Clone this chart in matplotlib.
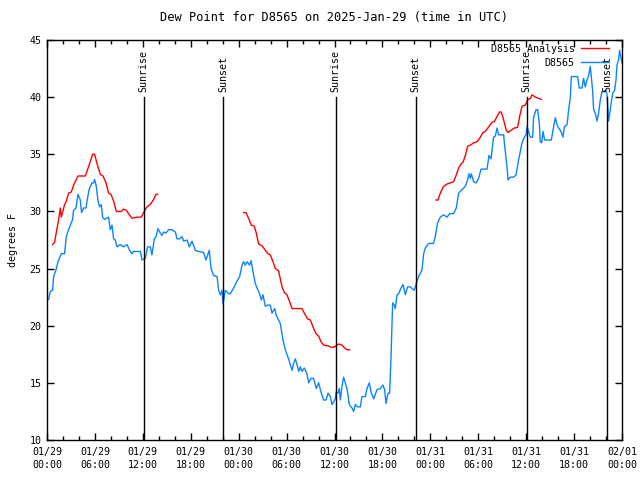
import matplotlib
matplotlib.use("Agg")
import matplotlib.pyplot as plt
from matplotlib.ticker import MultipleLocator

# hours since 2025-01-29 00:00 UTC
obs_t = [0.20, 0.41, 0.70, 0.83, 1.13, 1.38, 1.79, 2.20, 2.42, 2.70, 2.92, 3.21, 3.33, 3.63,
         3.88, 4.17, 4.33, 4.58, 4.88, 5.01, 5.30, 5.64, 5.84, 5.96, 6.17, 6.39, 6.59, 6.80,
         6.96, 7.21, 7.71, 7.93, 8.14, 8.34, 8.55, 8.77, 9.18, 9.59, 10.02, 10.34, 10.64,
         10.84, 11.68, 11.90, 12.31, 12.60, 12.93, 13.14, 13.44, 13.65, 13.90, 14.19, 14.40,
         14.60, 14.90, 15.23, 15.65, 16.07, 16.28, 16.60, 16.90, 17.11, 17.53, 17.82, 18.16,
         18.57, 18.98, 19.61, 19.91, 20.32, 20.54, 20.86, 21.29, 21.49, 21.70, 21.91, 22.04,
         22.33, 22.74, 22.95, 23.37, 23.79, 24.12, 24.42, 24.62, 24.83, 25.04, 25.37, 25.55,
         25.75, 26.08, 26.30, 26.62, 26.84, 27.05, 27.34, 27.62, 27.96, 28.17, 28.50, 28.71,
         29.21, 29.55, 29.84, 30.25, 30.68, 30.88, 31.09, 31.31, 31.51, 31.72, 31.93, 32.22,
         32.56, 32.76, 33.06, 33.38, 33.72, 34.01, 34.31, 34.64, 34.94, 35.19, 35.48, 35.69,
         36.10, 36.19, 36.44, 36.60, 36.73, 36.94, 37.14, 37.44, 37.64, 37.85, 38.19, 38.39,
         38.61, 38.89, 39.23, 39.44, 39.86, 40.07, 40.36, 40.57, 40.90, 41.32, 41.74, 42.07,
         42.28, 42.45, 42.70, 42.90, 43.08, 43.28, 43.49, 43.61, 43.83, 44.03, 44.33, 44.58,
         44.87, 45.15, 45.49, 45.71, 45.99, 46.24, 46.53, 46.96, 47.16, 47.37, 47.79, 48.41,
         48.62, 48.91, 49.25, 49.66, 50.09, 50.41, 50.91, 51.25, 51.54, 51.97, 52.38, 52.67,
         52.84, 53.01, 53.13, 53.42, 53.76, 54.05, 54.35, 55.10, 55.35, 55.60, 55.92, 56.14,
         56.35, 56.55, 56.76, 57.18, 57.30, 57.60, 57.73, 58.02, 58.43, 58.73, 59.05, 59.48,
         59.77, 59.98, 60.10, 60.30, 60.52, 60.81, 60.93, 61.23, 61.43, 61.65, 61.77, 61.94,
         62.11, 62.31, 63.15, 63.36, 63.65, 63.86, 64.06, 64.36, 64.61, 64.78, 65.12, 65.32,
         65.53, 65.65, 66.44, 66.65, 66.99, 67.19, 67.40, 67.61, 67.82, 68.03, 68.16, 68.32,
         68.45, 68.66, 68.87, 69.07, 69.28, 69.50, 69.70, 69.91, 70.12, 70.32, 70.53, 70.82,
         71.07, 71.25, 71.37, 71.57, 71.70, 72.00]
obs_dp = [22.3, 23.0, 23.1, 24.3, 24.9, 25.6, 26.3, 26.3, 27.8, 28.4, 28.8, 29.3, 30.1, 30.3,
          31.5, 31.0, 29.9, 30.3, 30.3, 30.9, 32.0, 32.5, 32.5, 32.8, 32.2, 30.9, 30.4, 30.6,
          29.5, 29.3, 29.5, 28.4, 28.8, 27.6, 27.5, 26.9, 27.1, 26.9, 27.1, 26.6, 26.3,
          26.5, 26.5, 25.75, 25.9, 26.9, 26.9, 26.2, 27.6, 27.8, 28.5, 28.1, 27.9,
          28.2, 28.1, 28.4, 28.4, 28.2, 27.6, 27.6, 27.8, 27.4, 27.5, 26.9, 27.4,
          26.6, 26.5, 26.4, 25.75, 26.6, 25.0, 24.4, 24.3, 23.1, 22.7, 23.1, 21.9,
          23.1, 22.8, 22.8, 23.3, 23.9, 24.3, 25.3, 25.6, 25.3, 25.6, 25.3, 25.7,
          24.9, 23.7, 23.3, 22.8, 22.25, 22.7, 21.7, 21.8, 21.8, 21.1, 21.5, 20.9,
          20.2, 18.75, 17.9, 17.1, 16.1, 16.7, 17.1, 16.6, 16.0, 16.4, 16.0, 16.3,
          15.8, 15.0, 15.4, 15.4, 14.5, 15.0, 14.2, 13.5, 13.5, 14.1, 13.8, 13.1,
          13.6, 14.2, 14.1, 14.5, 13.5, 14.7, 15.5, 14.8, 14.2, 13.1, 12.8, 12.5,
          13.1, 12.9, 12.9, 13.8, 13.8, 14.5, 15.0, 14.2, 13.6, 14.4, 14.5, 14.8,
          14.4, 13.2, 14.1, 14.1, 17.3, 22.0, 21.8, 21.5, 22.7, 22.8, 23.3, 23.6,
          22.7, 23.4, 23.4, 23.25, 23.1, 23.7, 24.3, 24.9, 26.3, 26.8, 27.2, 27.2,
          27.8, 29.0, 29.5, 29.7, 29.5, 29.8, 29.8, 30.3, 31.6, 31.9, 32.2, 32.75,
          33.3, 32.9, 33.3, 32.6, 32.5, 32.9, 33.7, 33.7, 34.9, 34.6, 36.5, 36.6,
          37.3, 36.7, 36.7, 36.7, 35.8, 33.9, 32.75, 33.0, 33.0, 33.2, 34.5, 36.0,
          36.5, 36.7, 37.4, 37.0, 36.5, 36.5, 38.2, 38.9, 38.9, 37.7, 36.1, 36.0,
          37.0, 36.25, 36.25, 37.1, 38.2, 37.6, 37.3, 37.0, 36.5, 37.4, 37.6, 38.9,
          40.0, 41.8, 41.8, 40.8, 40.8, 41.65, 40.9, 41.5, 41.9, 42.7, 41.8, 40.6,
          38.9, 38.6, 37.9, 38.6, 39.75, 40.5, 40.5, 40.6, 40.3, 37.9, 38.9, 40.3,
          40.6, 41.5, 42.8, 43.25, 44.1, 43.0]

# analysis, three separate runs
ana1_t = [0.70, 0.95, 1.25, 1.45, 1.67, 1.79, 1.95, 2.20, 2.42, 2.70, 3.04, 3.33, 3.88, 4.80,
          5.30, 5.71, 5.96, 6.26, 6.67, 7.01, 7.39, 7.71, 8.01, 8.34, 8.68, 9.30, 9.59, 9.93,
          10.22, 10.64, 11.27, 11.81, 12.10, 12.52, 12.93, 13.35, 13.65, 13.85]
ana1_dp = [27.1, 27.3, 28.5, 29.25, 30.3, 29.5, 29.9, 30.6, 30.9, 31.6, 31.7, 32.3, 33.1, 33.1,
           34.1, 35.0, 35.0, 34.2, 33.25, 33.1, 32.5, 31.6, 31.5, 30.9, 30.0, 30.0, 30.2, 30.1,
           29.8, 29.4, 29.5, 29.5, 29.9, 30.4, 30.6, 31.05, 31.5, 31.5]
ana2_t = [24.62, 24.92, 25.24, 25.58, 25.96, 26.21, 26.50, 26.92, 27.34, 27.67, 27.96, 28.30,
          28.59, 29.00, 29.43, 29.72, 30.05, 30.38, 30.68, 31.93, 32.22, 32.63, 32.97, 33.31,
          33.68, 34.01, 34.31, 34.64, 35.14, 35.69, 36.01, 36.31, 36.51, 36.94, 37.35, 37.57,
          37.89]
ana2_dp = [29.9, 29.9, 29.4, 28.8, 28.7, 28.1, 27.15, 27.0, 26.6, 26.3, 26.2, 25.6,
           25.0, 24.8, 23.4, 22.9, 22.7, 22.1, 21.5, 21.5, 21.1, 20.6, 20.5, 19.9,
           19.3, 19.1, 18.6, 18.3, 18.25, 18.1, 18.15, 18.3, 18.4, 18.3, 18.0, 17.9,
           17.9]
ana3_t = [48.71, 48.96, 49.25, 49.66, 50.09, 50.50, 50.91, 51.25, 51.54, 51.84, 52.09, 52.38,
          52.67, 53.01, 53.42, 53.85, 54.17, 54.60, 54.88, 55.30, 55.72, 56.01, 56.35, 56.67,
          56.89, 57.18, 57.51, 57.73, 58.10, 58.52, 58.93, 59.18, 59.48, 59.89, 60.18, 60.52,
          60.73, 61.15, 61.56, 61.90]
ana3_dp = [31.0, 31.0, 31.6, 32.2, 32.4, 32.5, 32.6, 33.2, 33.8, 34.15, 34.3, 34.9,
           35.7, 35.8, 36.0, 36.1, 36.4, 36.9, 37.0, 37.4, 37.8, 37.85, 38.3, 38.7,
           38.7, 38.0, 37.1, 36.9, 37.1, 37.3, 37.35, 38.3, 39.2, 39.3, 39.75, 39.9,
           40.2, 40.0, 39.9, 39.8]

sun_t = [12.1, 22.1, 36.14, 46.16, 60.05, 70.15]
sun_lbl = ["Sunrise", "Sunset", "Sunrise", "Sunset", "Sunrise", "Sunset"]

tick_t = list(range(0, 73, 6))
tick_lbl = ["01/29\n00:00", "01/29\n06:00", "01/29\n12:00", "01/29\n18:00",
            "01/30\n00:00", "01/30\n06:00", "01/30\n12:00", "01/30\n18:00",
            "01/31\n00:00", "01/31\n06:00", "01/31\n12:00", "01/31\n18:00",
            "02/01\n00:00"]

plt.rcParams['font.family'] = 'DejaVu Sans Mono'
plt.rcParams['font.size'] = 7.2

fig = plt.figure(figsize=(6.4, 4.8), dpi=100)
ax = fig.add_axes([47/640, 40/480, 575/640, 400/480])

red = '#ff0000'
blue = '#0a84ff'
ax.plot(ana1_t, ana1_dp, color=red, lw=1.0, label='D8565 Analysis')
ax.plot(ana2_t, ana2_dp, color=red, lw=1.0)
ax.plot(ana3_t, ana3_dp, color=red, lw=1.0)
ax.plot(obs_t, obs_dp, color=blue, lw=1.0, label='D8565')

for t, lbl in zip(sun_t, sun_lbl):
    ax.plot([t, t], [10, 40], color='black', lw=1.0)
    ax.text(t, 40.45, lbl, rotation=90, ha='center', va='bottom')

ax.set_xlim(0, 72)
ax.set_ylim(10, 45)
ax.set_xticks(tick_t)
ax.set_xticklabels(tick_lbl, linespacing=1.4)
ax.xaxis.set_minor_locator(MultipleLocator(2))
ax.set_yticks(range(10, 46, 5))
ax.tick_params(which='both', direction='in', top=True, right=True, width=1.0)
ax.tick_params(which='major', length=5, pad=5)
ax.tick_params(which='minor', length=3)
ax.tick_params(axis='y', pad=4)
for s in ax.spines.values():
    s.set_linewidth(1.0)

ax.set_ylabel('degrees F', labelpad=8)
ax.set_title('Dew Point for D8565 on 2025-Jan-29 (time in UTC)', pad=14)

ax.legend(loc='upper right', bbox_to_anchor=(0.977, 0.99), frameon=False,
          markerfirst=False, handlelength=2.8, borderpad=0, borderaxespad=0,
          labelspacing=0.4, handletextpad=0.6)

fig.savefig('out.png', dpi=100)
